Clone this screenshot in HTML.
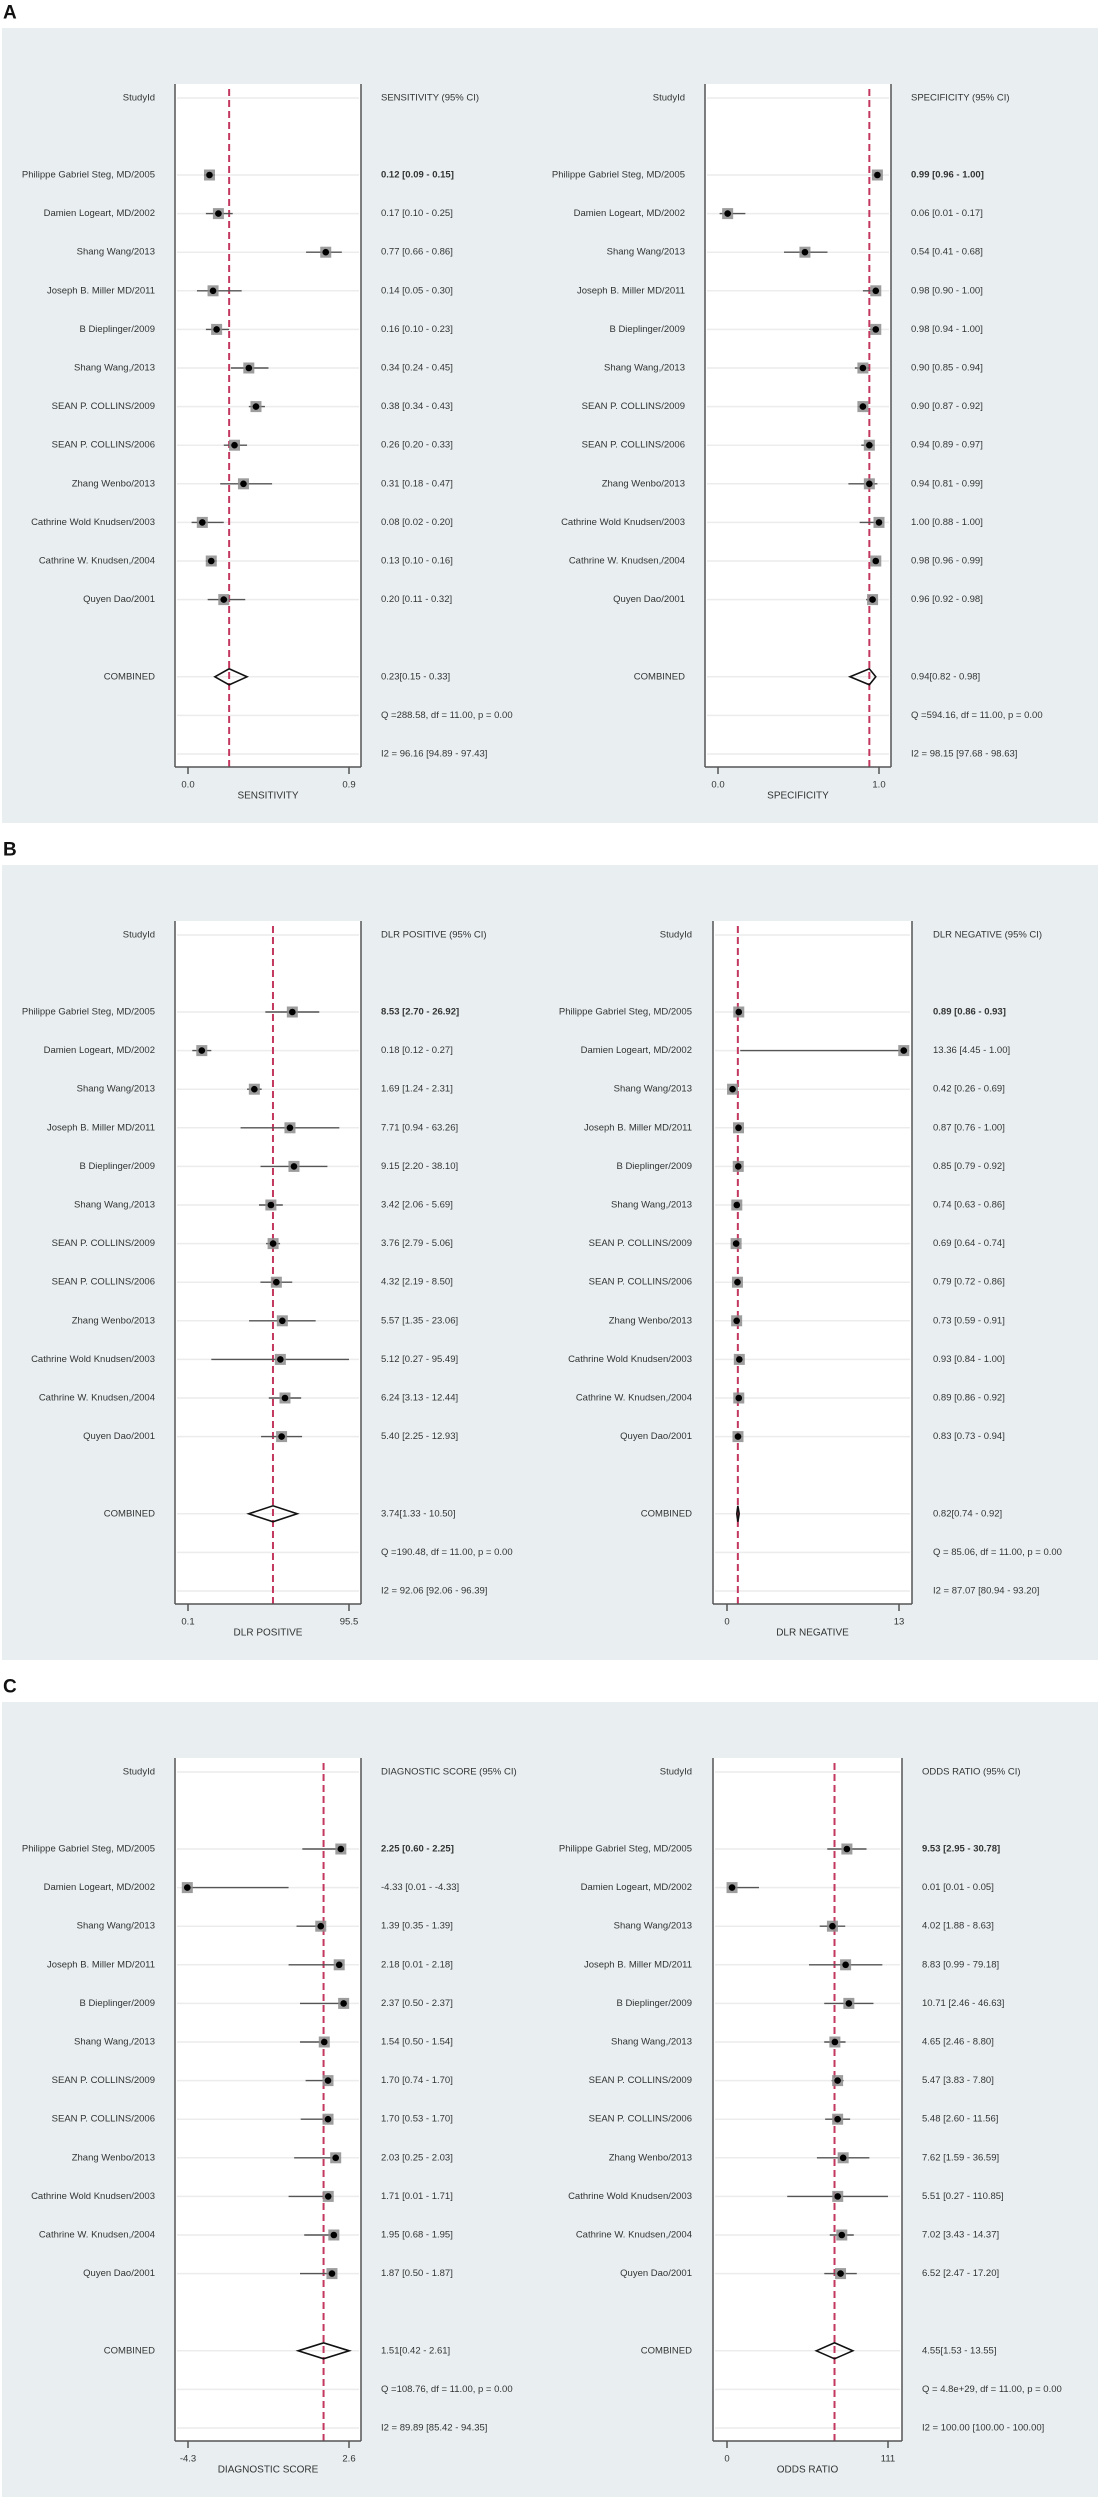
<!DOCTYPE html>
<html><head><meta charset="utf-8">
<style>
html,body{margin:0;padding:0;background:#fff;}
svg{display:block;font-family:"Liberation Sans",Arial,sans-serif;}
</style></head>
<body>
<svg id="fig" width="1098" height="2500" viewBox="0 0 1098 2500" xmlns="http://www.w3.org/2000/svg"></svg>
<script>
const studies = ["Philippe Gabriel Steg, MD/2005","Damien Logeart, MD/2002","Shang Wang/2013","Joseph B. Miller MD/2011","B Dieplinger/2009","Shang Wang,/2013","SEAN P. COLLINS/2009","SEAN P. COLLINS/2006","Zhang Wenbo/2013","Cathrine Wold Knudsen/2003","Cathrine W. Knudsen,/2004","Quyen Dao/2001"];

// Sensitivity
const sensEst = [0.12,0.17,0.77,0.14,0.16,0.34,0.38,0.26,0.31,0.08,0.13,0.20];
const sensLo  = [0.09,0.10,0.66,0.05,0.10,0.24,0.34,0.20,0.18,0.02,0.10,0.11];
const sensHi  = [0.15,0.25,0.86,0.30,0.23,0.45,0.43,0.33,0.47,0.20,0.16,0.32];
const sensPooled = [0.23,0.15,0.33];
const sensTicks = ["0.0","0.9"];
// Specificity
const specEst = [0.99,0.06,0.54,0.98,0.98,0.90,0.90,0.94,0.94,1.00,0.98,0.96];
const specLo  = [0.96,0.01,0.41,0.90,0.94,0.85,0.87,0.89,0.81,0.88,0.96,0.92];
const specHi  = [1.00,0.17,0.68,1.00,1.00,0.94,0.92,0.97,0.99,1.00,0.99,0.98];
const specPooled = [0.94,0.82,0.98];
const specTicks = ["0.0","1.0"];
// DLR positive
const dlrpEst = [8.53,0.18,1.69,7.71,9.15,3.42,3.76,4.32,5.57,5.12,6.24,5.40];
const dlrpLo  = [2.70,0.12,1.24,0.94,2.20,2.06,2.79,2.19,1.35,0.27,3.13,2.25];
const dlrpHi  = [26.92,0.27,2.31,63.26,38.10,5.69,5.06,8.50,23.06,95.49,12.44,12.93];
const dlrpPooled = [3.74,1.33,10.50];
const dlrpTicks = ["0.1","95.5"];
// DLR negative
const dlrnEst = [0.89,13.36,0.42,0.87,0.85,0.74,0.69,0.79,0.73,0.93,0.89,0.83];
const dlrnLo  = [0.86,4.45,0.26,0.76,0.79,0.63,0.64,0.72,0.59,0.84,0.86,0.73];
const dlrnHi  = [0.93,1.00,0.69,1.00,0.92,0.86,0.74,0.86,0.91,1.00,0.92,0.94];
const dlrnPooled = [0.82,0.74,0.92];
const dlrnTicks = ["0","13"];
// Diagnostic score
const dsEst = [2.25,-4.33,1.39,2.18,2.37,1.54,1.70,1.70,2.03,1.71,1.95,1.87];
const dsLo  = [0.60,0.01,0.35,0.01,0.50,0.50,0.74,0.53,0.25,0.01,0.68,0.50];
const dsHi  = [2.25,-4.33,1.39,2.18,2.37,1.54,1.70,1.70,2.03,1.71,1.95,1.87];
const dsPooled = [1.51,0.42,2.61];
const dsTicks = ["-4.3","2.6"];
// Odds ratio
const orEst = [9.53,0.01,4.02,8.83,10.71,4.65,5.47,5.48,7.62,5.51,7.02,6.52];
const orLo  = [2.95,0.01,1.88,0.99,2.46,2.46,3.83,2.60,1.59,0.27,3.43,2.47];
const orHi  = [30.78,0.05,8.63,79.18,46.63,8.80,7.80,11.56,36.59,110.85,14.37,17.20];
const orPooled = [4.55,1.53,13.55];
const orTicks = ["0","111"];

const svg = document.getElementById('fig');
const NS = "http://www.w3.org/2000/svg";
function mk(tag, attrs, parent){
  const e = document.createElementNS(NS, tag);
  for (const k in attrs) e.setAttribute(k, attrs[k]);
  (parent||svg).appendChild(e);
  return e;
}
function txt(str, x, y, anchor, size, weight, parent){
  const t = mk('text', {x:x, y:y, 'text-anchor':anchor, 'font-size':size, 'font-weight':weight||'normal', fill:'#333', 'dominant-baseline':'central'}, parent);
  t.textContent = str;
  return t;
}
function f2(v){ return v.toFixed(2); }

const PANEL_TOP = [28, 865, 1702];
const PANEL_LABELS = ["A","B","C"];

function drawPanel(pi){
  const top = PANEL_TOP[pi];
  const bg = mk('rect', {x:2, y:top, width:1096, height:795, fill:'#e9eff1'});
  
  
  const lab = mk('text', {x:3, y:top-15, 'font-size':19, 'font-weight':'bold', fill:'#111', 'dominant-baseline':'central'});
  lab.textContent = PANEL_LABELS[pi];
  
  
}

function drawChart(c){
  const top = c.top;
  const g = mk('g', {});
  
  
  const boxTop = top + 56, boxBot = top + 739;
  const rowY = i => top + 147 + i * 38.6;
  const headY = top + 70;
  const scale = v => {
    let f;
    if (c.log) f = (Math.log10(v) - Math.log10(c.min)) / (Math.log10(c.max) - Math.log10(c.min));
    else f = (v - c.min) / (c.max - c.min);
    return c.t0 + f * (c.t1 - c.t0);
  };
  const plot = mk('rect', {x:c.bx0, y:boxTop, width:c.bx1-c.bx0, height:boxBot-boxTop, fill:'#fff', stroke:'none'}, g);
  
  
  // row gridlines
  const rows = [-1]; for (let i=0;i<12;i++) rows.push(i); rows.push(13,14,15);
  rows.forEach(i => {
    const y = i === -1 ? headY : rowY(i);
    mk('line', {x1:c.bx0+2, x2:c.bx1-2, y1:y, y2:y, stroke:'#ececec', 'stroke-width':1.5}, g);
  });
  // pooled reference line
  const rx = scale(c.pooled[0]);
  const ref = mk('line', {x1:rx, x2:rx, y1:boxTop+5, y2:boxBot, stroke:'#c3385f', 'stroke-width':2, 'stroke-dasharray':'7,4'}, g);
  
  
  // box sides and bottom axis
  mk('line', {x1:c.bx0, x2:c.bx0, y1:boxTop, y2:boxBot, stroke:'#555', 'stroke-width':1.5}, g);
  mk('line', {x1:c.bx1, x2:c.bx1, y1:boxTop, y2:boxBot, stroke:'#555', 'stroke-width':1.5}, g);
  const ax = mk('line', {x1:c.bx0, x2:c.bx1, y1:boxBot, y2:boxBot, stroke:'#555', 'stroke-width':1.5}, g);
  
  
  [c.t0, c.t1].forEach((tx, k) => {
    mk('line', {x1:tx, x2:tx, y1:boxBot, y2:boxBot+7, stroke:'#555', 'stroke-width':1.5}, g);
    const tl = txt(c.ticks[k], tx, boxBot+18, 'middle', 9.5, 'normal', g);
    
    
  });
  const at = txt(c.axisTitle, (c.bx0+c.bx1)/2, boxBot+29, 'middle', 10, 'normal', g);
  
  
  // headers
  const h1 = txt('StudyId', c.labR, headY, 'end', 9.5, 'normal', g);
  
  
  const h2 = txt(c.header, c.statX, headY, 'start', 9.5, 'normal', g);
  
  
  // studies
  for (let i=0;i<c.est.length;i++){
    const y = rowY(i);
    const sl = txt(studies[i], c.labR, y, 'end', 9.5, 'normal', g);
    
    
    const lo = Math.min(c.lo[i], c.hi[i]), hi = Math.max(c.lo[i], c.hi[i]), e = c.est[i];
    const x0 = Math.max(c.bx0+1, scale(Math.min(lo,e))), x1 = Math.min(c.bx1-1, scale(Math.max(hi,e)));
    const ci = mk('line', {x1:x0, x2:x1, y1:y, y2:y, stroke:'#555', 'stroke-width':1.4}, g);
    
    
    const ex = Math.min(c.bx1-6, Math.max(c.bx0+6, scale(e)));
    const sq = mk('rect', {x:ex-5.5, y:y-5.5, width:11, height:11, fill:'#8c8c8c', opacity:0.85}, g);
    
    
    const pt = mk('circle', {cx:ex, cy:y, r:3.3, fill:'#000'}, g);
    
    
    const label = f2(c.est[i]) + ' [' + f2(c.lo[i]) + ' - ' + f2(c.hi[i]) + ']';
    const vl = txt(label, c.statX, y, 'start', 9.5, i===0 ? 'bold' : 'normal', g);
    
    
  }
  // combined
  const cy = rowY(13);
  const cl = txt('COMBINED', c.labR, cy, 'end', 9.5, 'normal', g);
  
  
  const dx = scale(c.pooled[0]), dl = scale(c.pooled[1]), dh = scale(c.pooled[2]);
  const dia = mk('polygon', {points:[dl+','+cy, dx+','+(cy-8), dh+','+cy, dx+','+(cy+8)].join(' '), fill:'none', stroke:'#111', 'stroke-width':1.6}, g);
  
  
  const pv = txt(' ' + f2(c.pooled[0]) + '[' + f2(c.pooled[1]) + ' - ' + f2(c.pooled[2]) + ']', c.statX, cy, 'start', 9.5, 'normal', g);
  
  
  const q = txt(c.q, c.statX, rowY(14), 'start', 9.5, 'normal', g);
  
  
  const i2 = txt(c.i2, c.statX, rowY(15), 'start', 9.5, 'normal', g);
  
  
}

[0,1,2].forEach(drawPanel);

const L = {bx0:175, bx1:361, t0:188, t1:349, labR:155, statX:381};
drawChart(Object.assign({}, L, {name:'sensitivity', top:PANEL_TOP[0], min:0, max:0.9, log:false, est:sensEst, lo:sensLo, hi:sensHi, pooled:sensPooled, ticks:sensTicks, header:'SENSITIVITY (95% CI)', axisTitle:'SENSITIVITY', q:'Q =288.58, df = 11.00, p =  0.00', i2:'I2 = 96.16 [94.89 - 97.43]'}));
drawChart({name:'specificity', top:PANEL_TOP[0], bx0:705, bx1:891, t0:718, t1:879, labR:685, statX:911, min:0, max:1.0, log:false, est:specEst, lo:specLo, hi:specHi, pooled:specPooled, ticks:specTicks, header:'SPECIFICITY (95% CI)', axisTitle:'SPECIFICITY', q:'Q =594.16, df = 11.00, p =  0.00', i2:'I2 = 98.15 [97.68 - 98.63]'});
drawChart(Object.assign({}, L, {name:'dlr-positive', top:PANEL_TOP[1], min:0.1, max:95.5, log:true, est:dlrpEst, lo:dlrpLo, hi:dlrpHi, pooled:dlrpPooled, ticks:dlrpTicks, header:'DLR POSITIVE (95% CI)', axisTitle:'DLR POSITIVE', q:'Q =190.48, df = 11.00, p =  0.00', i2:'I2 = 92.06 [92.06 - 96.39]'}));
drawChart({name:'dlr-negative', top:PANEL_TOP[1], bx0:713, bx1:912, t0:727, t1:899, labR:692, statX:933, min:0, max:13, log:false, est:dlrnEst, lo:dlrnLo, hi:dlrnHi, pooled:dlrnPooled, ticks:dlrnTicks, header:'DLR NEGATIVE (95% CI)', axisTitle:'DLR NEGATIVE', q:'Q = 85.06, df = 11.00, p =  0.00', i2:'I2 = 87.07 [80.94 - 93.20]'});
drawChart(Object.assign({}, L, {name:'diagnostic-score', top:PANEL_TOP[2], min:-4.3, max:2.6, log:false, est:dsEst, lo:dsLo, hi:dsHi, pooled:dsPooled, ticks:dsTicks, header:'DIAGNOSTIC SCORE (95% CI)', axisTitle:'DIAGNOSTIC SCORE', q:'Q =108.76, df = 11.00, p =  0.00', i2:'I2 = 89.89 [85.42 - 94.35]'}));
drawChart({name:'odds-ratio', top:PANEL_TOP[2], bx0:713, bx1:902, t0:727, t1:888, labR:692, statX:922, min:0.0074, max:111, log:true, est:orEst, lo:orLo, hi:orHi, pooled:orPooled, ticks:orTicks, header:'ODDS RATIO (95% CI)', axisTitle:'ODDS RATIO', q:'Q = 4.8e+29, df = 11.00, p =  0.00', i2:'I2 = 100.00 [100.00 - 100.00]'});
</script>
</body></html>
